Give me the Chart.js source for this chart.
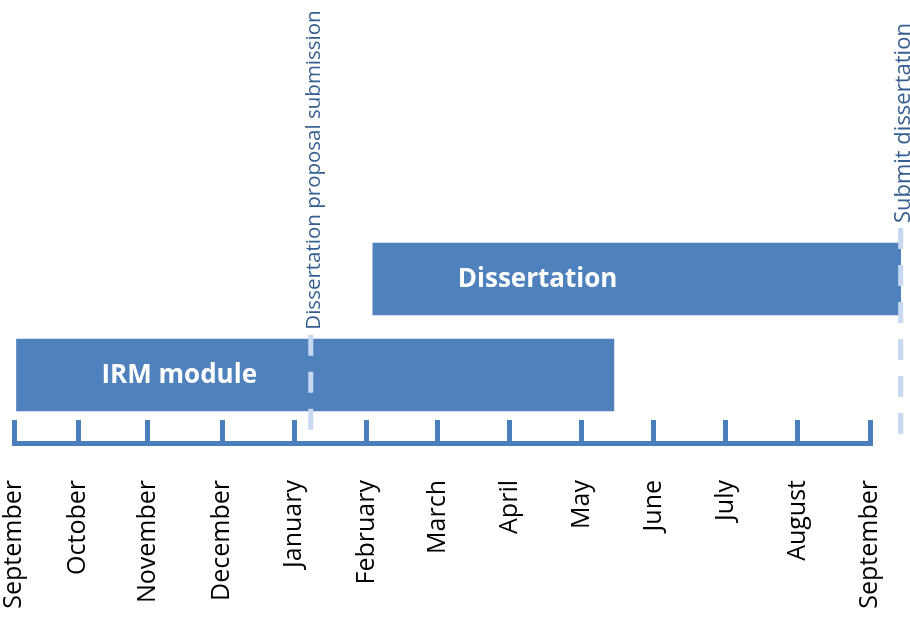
<!DOCTYPE html>
<html>
<head>
<meta charset="utf-8">
<title>Dissertation timeline</title>
<script src="https://cdn.jsdelivr.net/npm/chart.js@4/dist/chart.umd.min.js"></script>
<style>
  html, body { margin: 0; padding: 0; background: #ffffff; }
  canvas { display: block; }
</style>
</head>
<body>
<canvas id="timeline" width="910" height="619"></canvas>
<script>
// Month ticks along the timeline (month units from the first September)
const monthLabels = ['September', 'October', 'November', 'December', 'January', 'February',
                     'March', 'April', 'May', 'June', 'July', 'August', 'September'];
const monthTicks = [0, 0.9, 1.87, 2.92, 3.93, 4.94, 5.94, 6.95, 7.96, 8.97, 9.98, 10.99, 12];

// Tasks: row on the vertical scale, start and end in months
const tasks = ['IRM module', 'Dissertation'];
const taskRows = [0, 1];
const taskStart = [0, 5.03];
const taskEnd = [8.41, 12.43];

// Milestones: position in months and how far up their marker reaches
const milestones = ['Dissertation proposal submission', 'Submit dissertation'];
const milestoneAt = [4.16, 12.43];
const milestoneTop = [0.42, 1.53];
const milestoneBottom = -0.65;

const BAR_BLUE = '#4f81bd';
const AXIS_BLUE = '#4a7ebb';

const taskLabels = {
  id: 'taskLabels',
  afterDatasetsDraw(chart) {
    const ctx = chart.ctx;
    const meta = chart.getDatasetMeta(0);
    ctx.save();
    ctx.fillStyle = '#ffffff';
    ctx.font = 'bold 26px "Open Sans"';
    ctx.textAlign = 'left';
    ctx.textBaseline = 'middle';
    meta.data.forEach((bar, i) => {
      const left = Math.min(bar.x, bar.base);
      ctx.fillText(tasks[i], left + 85, bar.y + 1);
    });
    ctx.restore();
  }
};

const milestoneMarkers = {
  id: 'milestoneMarkers',
  afterDatasetsDraw(chart) {
    const ctx = chart.ctx;
    const xs = chart.scales.x;
    const ys = chart.scales.y;
    const sizes = [20.5, 22];
    milestones.forEach((name, i) => {
      const px = xs.getPixelForValue(milestoneAt[i]);
      const top = ys.getPixelForValue(milestoneTop[i]);
      const bottom = ys.getPixelForValue(milestoneBottom);
      ctx.save();
      ctx.strokeStyle = '#c6d9f1';
      ctx.lineWidth = 5;
      ctx.setLineDash([21, 16]);
      ctx.beginPath();
      ctx.moveTo(px, top);
      ctx.lineTo(px, bottom);
      ctx.stroke();
      ctx.restore();

      ctx.save();
      ctx.translate(px + 9, top - 5);
      ctx.rotate(-Math.PI / 2);
      ctx.fillStyle = '#365f91';
      ctx.font = sizes[i] + 'px "Open Sans"';
      ctx.textAlign = 'left';
      ctx.textBaseline = 'alphabetic';
      ctx.fillText(name, 0, 0);
      ctx.restore();
    });
  }
};

new Chart(document.getElementById('timeline'), {
  type: 'bar',
  data: {
    datasets: [{
      data: tasks.map((t, i) => ({ x: [taskStart[i], taskEnd[i]], y: taskRows[i] })),
      backgroundColor: BAR_BLUE,
      borderWidth: 0,
      barThickness: 72,
      clip: false
    }]
  },
  options: {
    indexAxis: 'y',
    responsive: false,
    devicePixelRatio: 1,
    animation: false,
    layout: { padding: { top: 183, left: 14, right: 40, bottom: 0 } },
    plugins: {
      legend: { display: false },
      tooltip: { enabled: false }
    },
    scales: {
      x: {
        type: 'linear',
        position: 'bottom',
        min: 0,
        max: 12,
        afterBuildTicks: (scale) => {
          scale.ticks = monthTicks.map(v => ({ value: v }));
        },
        afterFit: (scale) => {
          scale.height = 176;
          scale.paddingLeft = 0;
          scale.paddingRight = 0;
          scale.paddingTop = 0;
          scale.paddingBottom = 0;
        },
        ticks: {
          autoSkip: false,
          minRotation: 90,
          maxRotation: 90,
          padding: 60,
          color: '#000000',
          font: { family: '"Open Sans"', size: 25 },
          callback: (value, index) => monthLabels[index]
        },
        grid: {
          drawOnChartArea: false,
          drawTicks: true,
          tickLength: -23,
          color: AXIS_BLUE,
          lineWidth: 5
        },
        border: { display: true, color: AXIS_BLUE, width: 5 }
      },
      y: {
        type: 'linear',
        display: false,
        offset: false,
        min: -0.7083,
        max: 2
      }
    }
  },
  plugins: [taskLabels, milestoneMarkers]
});
</script>
</body>
</html>
